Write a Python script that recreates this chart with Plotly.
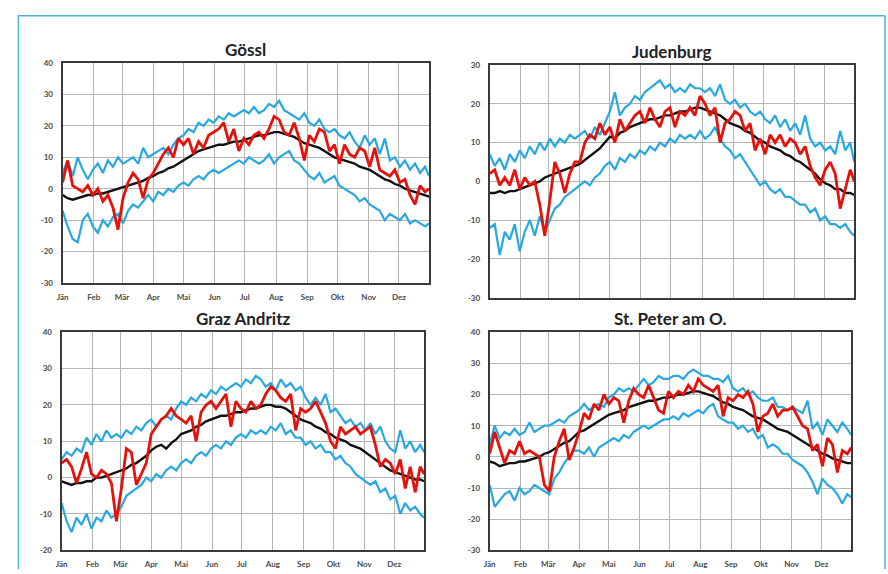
import plotly.graph_objects as go

# ---------------- data ----------------
DAYS = list(range(1, 362, 5)) + [365]  # 74 sample days
MONTH_DAYS = [1, 32, 60, 91, 121, 152, 182, 213, 244, 274, 305, 335]
MONTHS = ["Jän", "Feb", "Mär", "Apr", "Mai", "Jun", "Jul", "Aug", "Sep", "Okt", "Nov", "Dez"]

STATIONS = ["Gössl", "Judenburg", "Graz Andritz", "St. Peter am O."]
Y_RANGES = [[-30, 40], [-30, 30], [-20, 40], [-30, 40]]

goessl_mean = [-2,-3,-3.5,-3,-2.5,-2,-2,-1.5,-1.5,-1,-0.5,0,0.5,1,1.5,2,2.5,3.5,4,5,5.5,6.5,7,8,9,10,11,12,12.5,13,
               13.5,14,14,14.5,15,15,15.5,16,16.5,17,17,17.5,18,18,17.5,17,16.5,15.5,14.5,14,13.5,13,12,11,10,9.5,9,8.5,8,7,
               6.5,6,5,4,3,2.5,1.5,1,0,-0.5,-1,-1.5,-2,-2.5]
goessl_max = [5,9,4,10,6,3,6,8,5,9,7,10,8,9,10,8,13,10,11,12,13,11,14,16,17,19,18,21,20,22,
              21,23,22,24,23,24,25,24,26,24,25,27,26,28,25,24,23,22,24,21,20,22,19,18,19,17,16,18,15,13,
              17,14,16,11,16,9,10,7,9,6,8,5,7,4]
goessl_min = [-7,-12,-16,-17,-10,-8,-12,-14,-10,-12,-9,-8,-11,-7,-5,-6,-4,-2,-4,-1,-2,0,-1,1,2,1,3,4,3,5,
              6,5,6,7,8,9,8,10,9,8,9,11,8,10,11,12,9,8,6,4,3,5,2,3,4,1,0,-1,-2,-4,
              -3,-5,-6,-7,-10,-8,-9,-10,-8,-11,-10,-11,-12,-11]
goessl_year = [2,9,1,0,-1,1,-2,0,-4,-2,-6,-13,-3,2,5,3,-3,3,5,8,11,13,10,16,14,16,11,15,13,17,
               18,19,21,15,19,12,16,14,17,18,16,19,23,22,18,17,21,16,9,17,15,19,18,12,14,8,14,11,10,13,
               12,7,13,6,5,4,6,2,3,-2,-5,1,-1,0]

juden_mean = [-3,-3,-2.5,-3,-2.5,-2.5,-2,-1.5,-1,-0.5,0,1,1.5,2,2.5,3,3.5,4,4.5,5.5,6.5,7.5,8.5,10,11.5,11,12.5,13,14,14.5,
              15,15.5,16,16,16.5,17,17,17.5,18,18,18.5,19,19,18.5,18,17.5,17,16,15,14.5,14,13,12.5,11.5,10.5,10,9,8.5,8,7,
              6.5,5.5,5,4,3,2,0.5,-0.5,-1,-2,-2,-3,-3,-3.5]
juden_max = [7,4,6,3,7,5,8,6,9,7,10,8,11,9,11,10,12,11,12,13,11,14,12,15,18,23,17,19,20,22,
             21,23,24,25,26,24,25,23,24,23,25,24,24,23,24,22,25,21,20,21,19,20,18,17,18,16,15,17,14,16,
             13,15,12,17,11,9,10,8,9,7,13,8,10,5]
juden_min = [-12,-11,-19,-13,-15,-11,-18,-13,-10,-14,-9,-13,-10,-7,-6,-4,-3,-2,-1,0,-1,1,2,4,5,3,6,5,7,6,
             8,7,9,8,10,9,11,10,12,11,12,11,13,11,12,14,11,9,8,6,7,5,3,1,-1,0,-2,-3,-2,-4,
             -4,-5,-6,-6,-8,-7,-10,-9,-11,-11,-12,-11,-13,-14]
juden_year = [2,3,-1,1,-1,3,-2,1,-1,0,-6,-14,-5,5,2,-3,2,5,5,10,12,11,15,12,14,10,16,13,15,17,
              18,15,19,16,14,18,19,14,18,17,19,17,22,20,17,19,10,15,16,18,17,13,15,8,11,7,12,10,12,9,
              11,10,7,9,4,1,-1,3,5,2,-7,-2,3,0]

graz_mean = [-1,-1.5,-2,-1.5,-1.5,-1,-1,0,0,0.5,1,1.5,2,2.5,3.5,4,5,6,7.5,8.5,9,8,9.5,10.5,12,12.5,13,14,14.5,15.5,
             16,16.5,17,17,17.5,18,18,18.5,19,19,19.5,20,20,19.5,19.5,19,18,17,16,15.5,15,14,13.5,12.5,12,11,10.5,10,9,8.5,
             8,7,6,5,4,3,2,1.5,1,0.5,0,-0.5,-0.5,-1]
graz_max = [5,7,6,8,7,11,9,12,10,13,11,12,11,13,12,14,13,15,16,14,16,17,16,19,21,20,22,21,23,22,
            24,23,25,24,25,26,25,27,26,28,27,25,26,24,27,25,26,24,25,22,20,22,20,23,18,19,17,15,16,14,
            15,13,15,12,14,10,8,7,13,8,10,7,9,7]
graz_min = [-7,-12,-15,-11,-13,-10,-14,-11,-12,-9,-11,-10,-8,-5,-4,-3,-2,0,-1,1,0,2,3,2,4,5,4,6,7,6,
            8,9,8,10,9,11,12,11,13,12,13,12,14,13,15,12,13,11,11,9,10,8,9,7,7,5,6,4,3,1,
            0,-1,-2,-1,-4,-3,-6,-5,-10,-7,-9,-8,-10,-11]
graz_year = [4,5,3,-1.5,2.5,7,1,0,2,1,-1.5,-12,-3,8,7,-2,1,4,12,14,16,17,19,17,16,15,17,10,18,20,
             21,19,21,23,14,21,19,18,21,19,20,23,25,24,22,21,23,13,19,18,19,21,18,15,10,8,14,12,13,14,
             12,13,14,9,3,5,4,1,5,-3,3,-4,3,1]

peter_mean = [-1.5,-2,-3,-2.5,-2,-2,-1.5,-1.5,-1,-0.5,0,1,1.5,2.5,3.5,4.5,5,6.5,8,8.5,9.5,10.5,11.5,12.5,13.5,14,14.5,15,16,16.5,
              17,17.5,18,18,18.5,19,19,19.5,20,20,20.5,21,21,20.5,20,19.5,18.5,17.5,17,16,15.5,15,14,13,12.5,12,11,10,9,8.5,
              8,7,6,5,4,3,2,1,0.5,-0.5,-1,-1.5,-2,-2]
peter_max = [4,10,6,8,7,9,7,8,11,8,9,10,10,11,12,11,13,14,15,17,15,16,17,16,19,20,22,21,22,21,
             23,25,23,24,26,25,25,26,26,25,27,28,27,26,26,25,25,24,26,22,21,22,20,21,19,18,18,19,16,16,
             15,16,15,14,18,9,11,7,12,10,8,11,9,7]
peter_min = [-9,-16,-14,-12,-11,-14,-10,-12,-11,-9,-10,-11,-12,-7,-5,-2,0,2,2,1,3,0,3,4,5,6,5,7,6,8,
             9,10,9,10,11,12,12,13,12,14,13,14,15,14,16,17,13,12,11,11,9,10,8,9,6,7,3,4,3,1,
             1,-1,-2,-3,-5,-8,-12,-7,-9,-10,-12,-15,-12,-13]
peter_year = [1,8,3,-2,2,1,5,1,2,1,0,-9,-11,0,5,9,-1,3,8,14,12,17,15,20,17,19,18,11,18,22,
              20,19,23,19,15,14,21,19,21,20,23,21,25,23,22,21,23,13,19,18,20,19,21,17,8,13,14,17,13,15,
              15,16,13,10,9,2,4,-3,6,4,-5,2,1,3]

MEANS = [goessl_mean, juden_mean, graz_mean, peter_mean]
MAXS = [goessl_max, juden_max, graz_max, peter_max]
MINS = [goessl_min, juden_min, graz_min, peter_min]
YEARS = [goessl_year, juden_year, graz_year, peter_year]

# ---------------- layout geometry (pixels) ----------------
W, H = 888, 574
BOXES = [  # left, right, top, bottom
    (57, 426, 59, 283),
    (487, 854, 61, 298),
    (56, 421, 333, 555),
    (487, 851, 333, 555),
]
SHOW_X = [True, False, True, True]

BLUE = "#27a8e0"
RED = "#e3120b"
BLACK = "#111111"

fig = go.Figure()
layout = dict(
    width=W, height=H, margin=dict(l=0, r=0, t=0, b=0),
    paper_bgcolor="white", plot_bgcolor="white", showlegend=False,
    annotations=[], shapes=[],
)

tick_font = dict(family="Lato", size=8, color="#4a4a4a", weight="bold")

for i in range(4):
    n = "" if i == 0 else str(i + 1)
    xa, ya = "x" + n, "y" + n
    l, r, t, b = BOXES[i]
    for series, color, width in [(MAXS[i], BLUE, 2.2), (MINS[i], BLUE, 2.2),
                                 (MEANS[i], BLACK, 2.4), (YEARS[i], RED, 2.8)]:
        fig.add_trace(go.Scatter(x=DAYS, y=series, mode="lines",
                                 line=dict(color=color, width=width),
                                 xaxis=xa, yaxis=ya, hoverinfo="skip"))
    y0, y1 = Y_RANGES[i]
    yt = list(range(y0, y1 + 1, 10))
    layout["xaxis" + n] = dict(
        domain=[l / W, r / W], range=[1, 365], anchor=ya,
        tickvals=MONTH_DAYS, ticktext=MONTHS, showticklabels=SHOW_X[i],
        showgrid=True, gridcolor="#b5b5b5", gridwidth=1,
        showline=True, mirror=True, linecolor="#3a3a3a", linewidth=2,
        ticks="outside", ticklen=5, tickcolor="rgba(0,0,0,0)",
        tickfont=tick_font, zeroline=False, fixedrange=True,
    )
    layout["yaxis" + n] = dict(
        domain=[1 - b / H, 1 - t / H], range=[y0, y1], anchor=xa,
        tickvals=yt, ticktext=[str(v) for v in yt],
        showgrid=True, gridcolor="#b5b5b5", gridwidth=1,
        showline=True, mirror=True, linecolor="#3a3a3a", linewidth=2,
        ticks="outside", ticklen=6, tickcolor="rgba(0,0,0,0)",
        tickfont=tick_font, zeroline=False, fixedrange=True,
    )
    layout["annotations"].append(dict(
        text="<b>" + STATIONS[i] + "</b>", xref="paper", yref="paper",
        x=(l + r) / 2 / W, y=1 - (t - 14) / H, xanchor="center", yanchor="middle",
        showarrow=False, font=dict(family="Lato", size=17, color="#222222"),
    ))

# outer frame (teal lines)
frame = "#4db4d2"
layout["shapes"] += [
    dict(type="line", xref="paper", yref="paper", x0=12 / W, x1=885 / W, y0=1 - 11 / H, y1=1 - 11 / H,
         line=dict(color=frame, width=1.5)),
    dict(type="line", xref="paper", yref="paper", x0=12.5 / W, x1=12.5 / W, y0=0, y1=1 - 11 / H,
         line=dict(color=frame, width=1.5)),
    dict(type="line", xref="paper", yref="paper", x0=885 / W, x1=885 / W, y0=0, y1=1 - 11 / H,
         line=dict(color=frame, width=1.5)),
]

fig.update_layout(**layout)
fig.write_html("out.html", config={"displayModeBar": False},
               post_script="document.body.style.margin='0';document.body.style.overflow='hidden';")
